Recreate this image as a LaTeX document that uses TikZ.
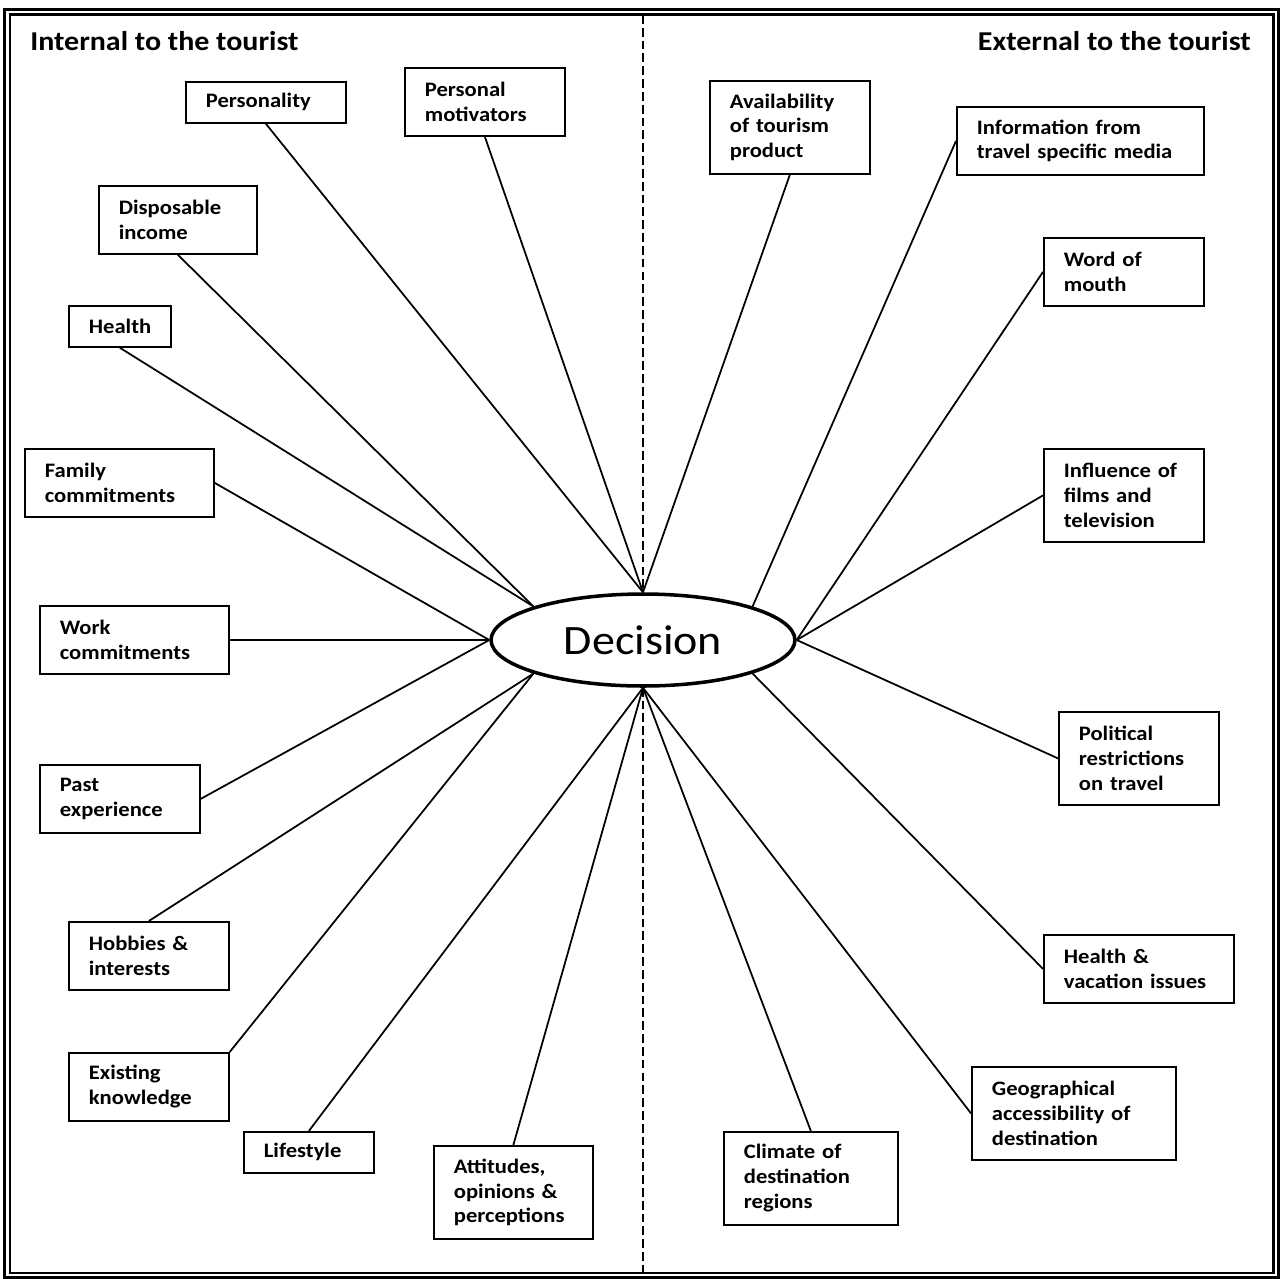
\documentclass[tikz,border=0pt]{standalone}
\usepackage{fontspec}
\setmainfont{Carlito}[FakeStretch=1.1]
\usetikzlibrary{shapes.geometric}
\hyphenpenalty=10000

\tikzset{
  factor/.style={draw, line width=1pt, anchor=north west, align=left,
    inner xsep=0.4cm, inner ysep=0pt,
    font=\fontsize{11.7}{14.2}\selectfont\bfseries},
  oneline/.style={minimum height=0.82cm},
  twolines/.style={minimum height=1.36cm},
  threelines/.style={minimum height=1.86cm},
  decision/.style={ellipse, draw, line width=2pt, fill=white,
    minimum width=6.08cm, minimum height=1.84cm, inner sep=0pt,
    font=\fontsize{23.8}{28}\selectfont},
  heading/.style={inner sep=0pt, font=\fontsize{15.5}{18}\selectfont\bfseries},
  link/.style={line width=1pt},
  divider/.style={line width=1.5pt, dash pattern=on 5pt off 2.3pt}
}

\begin{document}
\begin{tikzpicture}[x=0.02cm, y=-0.02cm]
  \useasboundingbox (0,0) rectangle (1280,1278);
  \draw[line width=1.7pt] (4.8,9.7) rectangle (1278,1277);
  \draw[line width=1.4pt] (9.8,14.5) rectangle (1273.5,1273);

  \node[heading, anchor=base west] (inside) at (30,50) {Internal to the tourist};
  \node[heading, anchor=base east] (outside) at (1251,50) {External to the tourist};

  \node[decision] (dec) at (643,640) {Decision};
  \coordinate (cuttop) at (643,15);
  \coordinate (cutbot) at (643,1273);
  \draw[divider] (cuttop) -- (dec.north);
  \draw[divider] (dec.south) -- (cutbot);

  % internal
  \node[factor, oneline, text width=2.4cm] (pers) at (185,81) {Personality};
  \node[factor, twolines, text width=2.4cm] (motiv) at (404,67) {Personal\\motivators};
  \node[factor, twolines, text width=2.36cm] (income) at (98,185) {Disposable\\income};
  \node[factor, oneline, text width=1.24cm] (health) at (68,305) {Health};
  \node[factor, twolines, text width=2.98cm] (family) at (24,448) {Family\\commitments};
  \node[factor, twolines, text width=2.98cm] (work) at (39,605) {Work\\commitments};
  \node[factor, twolines, text width=2.4cm] (past) at (39,764) {Past\\experience};
  \node[factor, twolines, text width=2.4cm] (hobby) at (68,921) {Hobbies \&\\interests};
  \node[factor, twolines, text width=2.4cm] (know) at (68,1052) {Existing\\knowledge};
  \node[factor, oneline, text width=1.8cm] (life) at (243,1131) {Lifestyle};
  \node[factor, threelines, text width=2.38cm] (attit) at (433,1145) {Attitudes,\\opinions \&\\perceptions};

  % external
  \node[factor, threelines, text width=2.4cm] (avail) at (709,80) {Availability\\of tourism\\product};
  \node[factor, twolines, text width=4.14cm] (media) at (956,106) {Information from\\travel specific media};
  \node[factor, twolines, text width=2.4cm] (word) at (1043,237) {Word of\\mouth};
  \node[factor, threelines, text width=2.4cm] (films) at (1043,448) {Influence of\\films and\\television};
  \node[factor, threelines, text width=2.4cm] (polit) at (1058,711) {Political\\restrictions\\on travel};
  \node[factor, twolines, text width=3.0cm] (vacat) at (1043,934) {Health \&\\vacation issues};
  \node[factor, threelines, text width=3.28cm] (geo) at (971,1066) {Geographical\\accessibility of\\destination};
  \node[factor, threelines, text width=2.68cm] (clim) at (723,1131) {Climate of\\destination\\regions};

  \draw[link] (pers.south) -- (dec.north);
  \draw[link] (motiv.south) -- (dec.north);
  \draw[link] (avail.south) -- (dec.north);
  \draw[link] (income.south) -- (dec.163);
  \draw[link] (health.south) -- (dec.163);
  \draw[link] (family.east) -- (dec.west);
  \draw[link] (work.east) -- (dec.west);
  \draw[link] (past.east) -- (dec.west);
  \draw[link] (hobby.north) -- (dec.197);
  \draw[link] (know.north east) -- (dec.197);
  \draw[link] (life.north) -- (dec.south);
  \draw[link] (attit.north) -- (dec.south);
  \draw[link] (clim.north) -- (dec.south);
  \draw[link] (geo.west) -- (dec.south);
  \draw[link] (vacat.west) -- (dec.343);
  \draw[link] (polit.west) -- (dec.east);
  \draw[link] (films.west) -- (dec.east);
  \draw[link] (word.west) -- (dec.east);
  \draw[link] (media.west) -- (dec.17);
\end{tikzpicture}
\end{document}
